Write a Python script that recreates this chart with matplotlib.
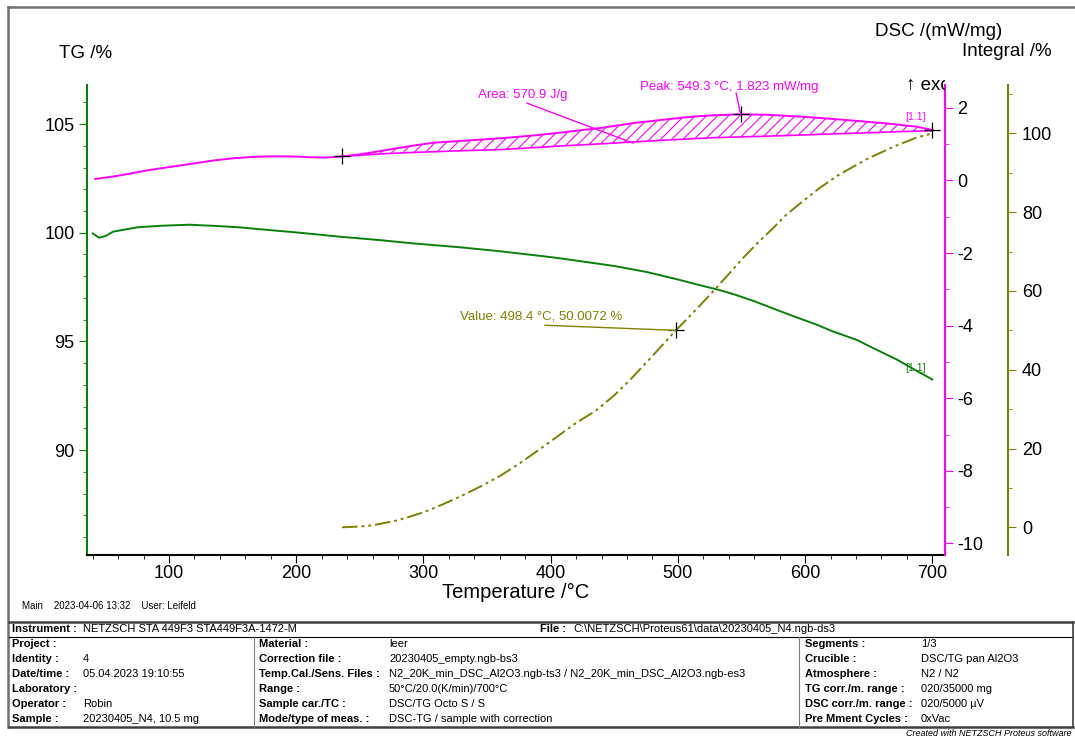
import numpy as np
import matplotlib.pyplot as plt
from matplotlib.ticker import MultipleLocator, FixedLocator
from matplotlib.lines import Line2D
from matplotlib.transforms import Bbox, TransformedBbox

plt.rcParams['font.family'] = ['Liberation Sans', 'DejaVu Sans']
plt.rcParams['hatch.linewidth'] = 0.8
plt.rcParams['axes.unicode_minus'] = False

# values
tg_temp = [40, 45, 50, 56, 75, 93, 116, 138, 155, 172, 203, 234, 266, 292, 329,
           360, 400, 420, 450, 475, 500, 515, 533, 545, 560, 580, 596, 610, 620,
           641, 655, 672, 686, 700]
tg_val = [99.97, 99.77, 99.85, 100.05, 100.25, 100.32, 100.37, 100.31, 100.25,
          100.16, 100.0, 99.82, 99.66, 99.51, 99.33, 99.15, 98.88, 98.72, 98.47,
          98.2, 97.85, 97.62, 97.36, 97.15, 96.85, 96.4, 96.05, 95.75, 95.5,
          95.06, 94.65, 94.17, 93.7, 93.25]

dsc_temp = [42, 60, 85, 110, 135, 150, 166, 182, 198, 210, 222, 236, 252, 271,
            290, 308, 330, 360, 390, 413, 440, 465, 490, 512, 530, 549.3, 570,
            596, 620, 648, 670, 688, 700]
dsc_val = [0.04, 0.13, 0.29, 0.42, 0.55, 0.61, 0.65, 0.665, 0.66, 0.64, 0.63,
           0.66, 0.73, 0.84, 0.95, 1.04, 1.09, 1.16, 1.25, 1.34, 1.45, 1.58,
           1.68, 1.76, 1.80, 1.823, 1.81, 1.76, 1.70, 1.62, 1.55, 1.48, 1.39]

# baseline of the peak integration, given at the dsc temperatures from 236 °C
base_start = 11
base_val = [0.66, 0.70, 0.74, 0.77, 0.79, 0.82, 0.85, 0.91, 0.96, 1.01, 1.06,
            1.11, 1.15, 1.18, 1.20, 1.22, 1.25, 1.28, 1.31, 1.34, 1.36, 1.37]

int_temp = [236, 250, 260, 280, 300, 315, 330, 345, 360, 375, 390, 405, 420,
            435, 450, 462, 480, 498.4, 515, 528, 540, 551, 563, 575, 585, 596,
            610, 625, 648, 670, 688, 700]
int_val = [0, 0.2, 0.5, 1.8, 3.8, 5.8, 8, 10.4, 13, 16.1, 19.5, 23, 26.5, 29.5,
           33.5, 37.3, 43.5, 50.0, 55.5, 60, 64.3, 68.3, 72.3, 76, 79.3, 82.2,
           85.8, 89.2, 93.4, 96.7, 99.0, 100]

peak_pt = (549.3, 1.823)
area_start = (236, 0.66)
area_end = (700, 1.39)
value_pt = (498.4, 50.0072)

tg_ticks = [90, 95, 100, 105]
dsc_ticks = [-10, -8, -6, -4, -2, 0, 2]
int_ticks = [0, 20, 40, 60, 80, 100]
t_ticks = [100, 200, 300, 400, 500, 600, 700]

green = '#0a800a'
magenta = '#ff00ff'
olive = '#808000'

W, H = 1075, 738
fig = plt.figure(figsize=(W / 100, H / 100), dpi=100)


def fx(px):
    return px / W


def fy(py):
    return 1 - py / H


ax = fig.add_axes([fx(87), fy(555), fx(945) - fx(87), fy(85) - fy(555)])
ax2 = ax.twinx()
ax3 = ax.twinx()

# TG
ax.plot(tg_temp, tg_val, color=green, lw=1.4)
ax.set_xlim(35.5, 710)
ax.set_ylim(85.17, 106.8)
ax.xaxis.set_major_locator(FixedLocator(t_ticks))
ax.xaxis.set_minor_locator(MultipleLocator(20))
ax.yaxis.set_major_locator(FixedLocator(tg_ticks))
ax.yaxis.set_minor_locator(MultipleLocator(1))
ax.spines['top'].set_visible(False)
ax.spines['right'].set_visible(False)
ax.spines['left'].set_color(green)
ax.spines['left'].set_linewidth(1.5)
ax.spines['bottom'].set_linewidth(1.5)
ax.tick_params(axis='y', which='both', colors=green, labelcolor='black',
               labelsize=13, direction='out', pad=3)
ax.tick_params(axis='x', which='both', labelsize=13, direction='out', pad=1.5)
ax.tick_params(which='major', length=6)
ax.tick_params(which='minor', length=3)
ax.text(686.5, 93.77, '[1.1]', color=green, fontsize=7.5, ha='center', va='center')

# DSC
ax2.plot(dsc_temp, dsc_val, color=magenta, lw=1.4)
ax2.plot(dsc_temp[base_start:], base_val, color=magenta, lw=1.2)
ax2.fill_between(dsc_temp[base_start:], dsc_val[base_start:], base_val,
                 facecolor='none', edgecolor=magenta, hatch='///', lw=0)
ax2.set_ylim(-10.32, 2.63)
ax2.yaxis.set_major_locator(FixedLocator(dsc_ticks))
ax2.yaxis.set_minor_locator(MultipleLocator(1))
for s in ['top', 'left', 'bottom']:
    ax2.spines[s].set_visible(False)
ax2.spines['right'].set_color(magenta)
ax2.spines['right'].set_linewidth(1.5)
ax2.tick_params(axis='y', which='both', colors=magenta, labelcolor='black',
                labelsize=13, direction='out', pad=3)
ax2.tick_params(which='major', length=6)
ax2.tick_params(which='minor', length=3)

for p in [area_start, peak_pt, area_end]:
    ax2.plot(*p, marker='+', color='black', ms=11, mew=0.9)
ax2.text(470.3, 2.58, 'Peak: 549.3 °C, 1.823 mW/mg', color=magenta,
         fontsize=9.5, ha='left', va='center')
ax2.plot([545.8, peak_pt[0]], [2.41, peak_pt[1]], color=magenta, lw=1)
ax2.text(343, 2.35, 'Area: 570.9 J/g', color=magenta, fontsize=9.5,
         ha='left', va='center')
ax2.plot([381.4, 464.8], [2.13, 1.03], color=magenta, lw=1)
ax2.text(686.5, 1.75, '[1.1]', color=magenta, fontsize=7.5, ha='center', va='center')

# Integral
ax3.plot(int_temp, int_val, color=olive, lw=1.4, dashes=(8, 2, 1.5, 2, 1.5, 2))
ax3.set_ylim(-7.03, 112.3)
ax3.yaxis.set_major_locator(FixedLocator(int_ticks))
ax3.yaxis.set_minor_locator(MultipleLocator(10))
for s in ['top', 'left', 'bottom']:
    ax3.spines[s].set_visible(False)
ax3.spines['right'].set_position(('outward', 63 * 0.72))
ax3.spines['right'].set_color(olive)
ax3.spines['right'].set_linewidth(1.5)
ax3.tick_params(axis='y', which='both', colors=olive, labelcolor='black',
                labelsize=13, direction='out', pad=4)
ax3.tick_params(which='major', length=6)
ax3.tick_params(which='minor', length=3)
ax3.plot(*value_pt, marker='+', color='black', ms=11, mew=0.9)
ax3.text(328.8, 53.5, 'Value: 498.4 °C, 50.0072 %', color=olive,
         fontsize=9.5, ha='left', va='center')
ax3.plot([395.6, value_pt[0]], [51.3, value_pt[1]], color=olive, lw=1)

# axis titles
fig.text(fx(59), fy(53), 'TG /%', fontsize=13.5, ha='left', va='center')
fig.text(fx(875), fy(31), 'DSC /(mW/mg)', fontsize=13.5, ha='left', va='center')
fig.text(fx(962), fy(52), 'Integral /%', fontsize=13.5, ha='left', va='center')
fig.text(fx(516), fy(592), 'Temperature /°C', fontsize=14.5, ha='center', va='center')
exo = fig.text(fx(906), fy(85), '↑ exo', fontsize=13.5, ha='left', va='center',
               clip_on=True)
exo.set_clip_box(TransformedBbox(Bbox([[0, 0], [fx(945), 1]]), fig.transFigure))

# frame
fig.add_artist(Line2D([fx(8), fx(1075)], [fy(7), fy(7)], color='#707070', lw=1.8))
fig.add_artist(Line2D([fx(8), fx(8)], [fy(7), fy(727)], color='#707070', lw=1.8))

fig.text(fx(22), fy(606), 'Main    2023-04-06 13:32    User: Leifeld', fontsize=7,
         ha='left', va='center')


# info table
def hline(y, x0=9, x1=1073, lw=1.0, c='black'):
    fig.add_artist(Line2D([fx(x0), fx(x1)], [fy(y), fy(y)], color=c, lw=lw))


def vline(x, y0, y1, lw=1.0, c='black'):
    fig.add_artist(Line2D([fx(x), fx(x)], [fy(y0), fy(y1)], color=c, lw=lw))


hline(622, lw=1.8, c='#404040')
hline(637, lw=0.8)
hline(727, lw=1.8, c='#404040')
vline(1073, 622, 727, lw=1.2, c='#404040')
vline(254, 637, 727, lw=0.8, c='#808080')
vline(799, 637, 727, lw=0.8, c='#808080')

fs = 8
fig.text(fx(12), fy(629), 'Instrument :', fontsize=fs, weight='bold', va='center')
fig.text(fx(83), fy(629), 'NETZSCH STA 449F3 STA449F3A-1472-M', fontsize=fs, va='center')
fig.text(fx(540), fy(629), 'File :', fontsize=fs, weight='bold', va='center')
fig.text(fx(573), fy(629), 'C:\\NETZSCH\\Proteus61\\data\\20230405_N4.ngb-ds3',
         fontsize=fs, va='center')

col1 = [('Project :', ''), ('Identity :', '4'), ('Date/time :', '05.04.2023 19:10:55'),
        ('Laboratory :', ''), ('Operator :', 'Robin'), ('Sample :', '20230405_N4, 10.5 mg')]
col2 = [('Material :', 'leer'), ('Correction file :', '20230405_empty.ngb-bs3'),
        ('Temp.Cal./Sens. Files :',
         'N2_20K_min_DSC_Al2O3.ngb-ts3 / N2_20K_min_DSC_Al2O3.ngb-es3'),
        ('Range :', '50°C/20.0(K/min)/700°C'), ('Sample car./TC :', 'DSC/TG Octo S / S'),
        ('Mode/type of meas. :', 'DSC-TG / sample with correction')]
col3 = [('Segments :', '1/3'), ('Crucible :', 'DSC/TG pan Al2O3'),
        ('Atmosphere :', 'N2 / N2'), ('TG corr./m. range :', '020/35000 mg'),
        ('DSC corr./m. range :', '020/5000 µV'), ('Pre Mment Cycles :', '0xVac')]

for i in range(6):
    y = fy(644 + 15 * i)
    for (lab, val), xl, xv in [(col1[i], 12, 83), (col2[i], 259, 389), (col3[i], 805, 921)]:
        fig.text(fx(xl), y, lab, fontsize=fs, weight='bold', va='center')
        fig.text(fx(xv), y, val, fontsize=fs, va='center')

fig.text(fx(1071), fy(733), 'Created with NETZSCH Proteus software', fontsize=6.5,
         style='italic', ha='right', va='center')

fig.savefig('out.png', dpi=100)
